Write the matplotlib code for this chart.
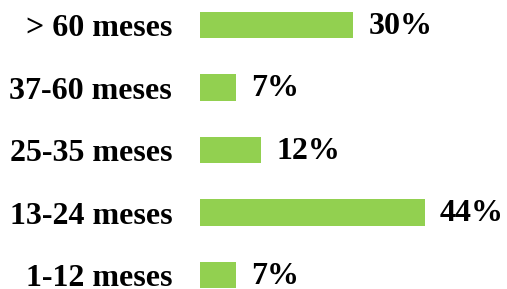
import matplotlib
matplotlib.use("Agg")
import matplotlib.pyplot as plt

categories = ["1-12 meses", "13-24 meses", "25-35 meses", "37-60 meses", "> 60 meses"]
values = [7, 44, 12, 7, 30]

plt.rcParams['font.family'] = ['Liberation Serif', 'DejaVu Serif']

fig = plt.figure(figsize=(5.07, 2.89), dpi=100)
ax = fig.add_axes([200 / 507, 0, 307 / 507, 1])

y = list(range(len(categories)))
ax.barh(y, values, height=0.42, color="#92D050")
ax.set_xlim(0, 307 / 5.11)
ax.set_ylim(-0.224, 4.4)

ax.set_yticks(y)
ax.set_yticklabels(categories, fontsize=23, fontweight="bold")
ax.tick_params(axis="y", length=0, pad=20)
ax.set_xticks([])
for s in ax.spines.values():
    s.set_visible(False)

for yi, v in zip(y, values):
    ax.annotate(f"{v}%", (v, yi), xytext=(11, -1), textcoords="offset points",
                va="center", ha="left", fontsize=23, fontweight="bold")

fig.savefig("out.png", dpi=100)
